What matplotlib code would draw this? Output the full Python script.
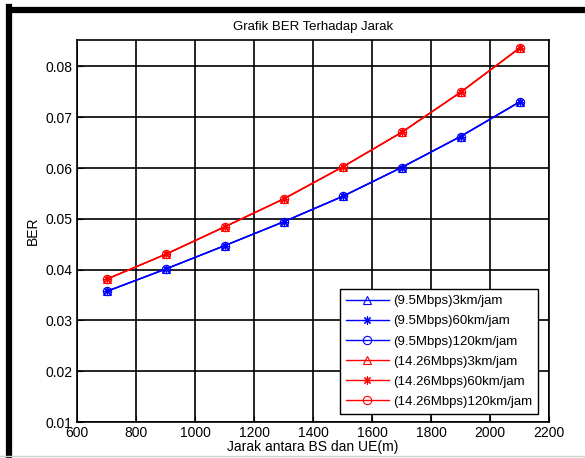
import numpy as np
import matplotlib
matplotlib.use('Agg')
import matplotlib.pyplot as plt
from matplotlib.lines import Line2D

plt.rcParams['font.family'] = ['Liberation Sans', 'DejaVu Sans']

jarak = [700, 900, 1100, 1300, 1500, 1700, 1900, 2100]
ber_95 = [0.0357, 0.0401, 0.0447, 0.0494, 0.0544, 0.0601, 0.0662, 0.0730]
ber_1426 = [0.0381, 0.0430, 0.0484, 0.0539, 0.0602, 0.0670, 0.0749, 0.0836]

labels = ['(9.5Mbps)3km/jam', '(9.5Mbps)60km/jam', '(9.5Mbps)120km/jam',
          '(14.26Mbps)3km/jam', '(14.26Mbps)60km/jam', '(14.26Mbps)120km/jam']
markers = ['^', (8, 2, 0), 'o']

fig = plt.figure(figsize=(5.85, 4.58), dpi=100)
ax = fig.add_axes([77 / 585, 36 / 458, 472 / 585, 382 / 458])

for i, m in enumerate(markers):
    ax.plot(jarak, ber_95, color='blue', lw=1, marker=m, ms=6, mfc='none', mew=0.8,
            label=labels[i])
for i, m in enumerate(markers):
    ax.plot(jarak, ber_1426, color='red', lw=1, marker=m, ms=6, mfc='none', mew=0.8,
            label=labels[3 + i])

ax.set_xlim(600, 2200)
ax.set_ylim(0.01, 0.0852)
ax.set_xticks(np.arange(600, 2201, 200))
ax.set_yticks([0.01, 0.02, 0.03, 0.04, 0.05, 0.06, 0.07, 0.08])
ax.set_yticklabels(['0.01', '0.02', '0.03', '0.04', '0.05', '0.06', '0.07', '0.08'])
ax.grid(True, color='black', lw=1.2, ls='-')
ax.set_axisbelow(True)
ax.tick_params(direction='in', length=4, labelsize=10, pad=3, color='black')
for s in ax.spines.values():
    s.set_linewidth(1.2)

ax.set_title('Grafik BER Terhadap Jarak', fontsize=9.5, pad=7)
ax.set_xlabel('Jarak antara BS dan UE(m)', fontsize=10, labelpad=0)
ax.set_ylabel('BER', fontsize=10, labelpad=4)

leg = ax.legend(loc='lower right', bbox_to_anchor=(0.977, 0.021), fontsize=9.5,
                fancybox=False, framealpha=1, edgecolor='black', borderpad=0.45,
                handlelength=3.3, labelspacing=0.6, handletextpad=0.3,
                borderaxespad=0)
leg.get_frame().set_linewidth(1)

# border of the original screenshot
fig.add_artist(Line2D([9 / 585, 9 / 585], [0, 1 - 7 / 458], transform=fig.transFigure,
                      color='black', lw=4.5, solid_capstyle='projecting'))
fig.add_artist(Line2D([9 / 585, 1], [1 - 10 / 458, 1 - 10 / 458], transform=fig.transFigure,
                      color='black', lw=4.5, solid_capstyle='butt'))
fig.add_artist(Line2D([0, 1], [2 / 458, 2 / 458], transform=fig.transFigure,
                      color='#d0d0d0', lw=1))

fig.savefig('out.png', dpi=100)
